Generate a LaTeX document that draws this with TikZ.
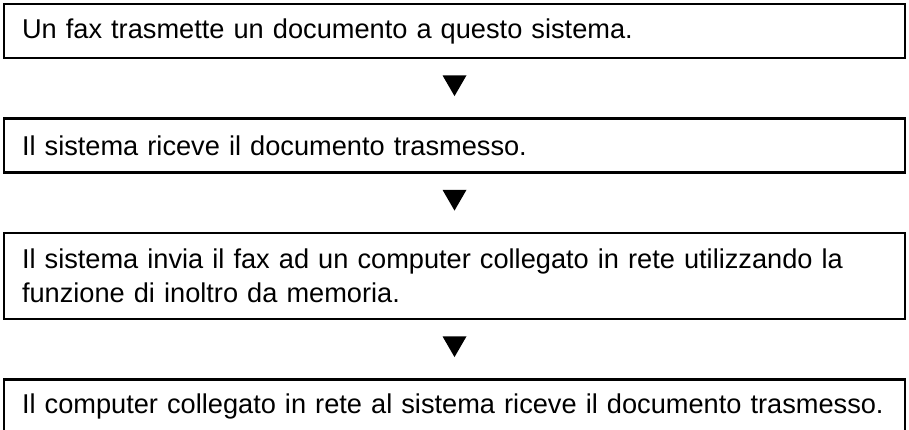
\documentclass[tikz,border=0pt]{standalone}
\usepackage{fontspec}
\setmainfont{Liberation Sans}
\usetikzlibrary{positioning,calc,shapes.geometric}
\tikzset{
  flowbox/.style={draw=black, line width=2.5pt, rectangle, minimum width=901pt,
    text width=865pt, inner xsep=18pt, inner ysep=0pt, align=left,
    font=\fontsize{27.2}{34}\selectfont},
  downmark/.style={regular polygon, regular polygon sides=3, shape border rotate=180,
    fill=black, inner sep=0pt, minimum size=27.7pt}
}
\begin{document}
\begin{tikzpicture}[node distance=58pt]
		%% fixed frame of the picture
		\useasboundingbox (0,0) rectangle (909pt,-429pt);
		%% the four steps, one under the other
		\node[flowbox, minimum height=54pt] (recv1) at (454.5pt,-31pt) {Un fax trasmette un documento a questo sistema.};
		\node[flowbox, minimum height=54pt, below=of recv1] (recv2) {Il sistema riceve il documento trasmesso.};
		\node[flowbox, minimum height=86pt, below=of recv2] (fwd) {Il sistema invia il fax ad un computer collegato in rete utilizzando la\\funzione di inoltro da memoria.};
		\node[flowbox, minimum height=54pt, below=of fwd] (pc) {\mbox{Il computer collegato in rete al sistema riceve il documento trasmesso.}};
		%% black triangles between the steps
		\node[downmark] (m1) at ($(recv1.south)!0.5!(recv2.north)+(0,6pt)$) {};
		\node[downmark] (m2) at ($(recv2.south)!0.5!(fwd.north)+(0,6pt)$) {};
		\node[downmark] (m3) at ($(fwd.south)!0.5!(pc.north)+(0,6pt)$) {};
	\end{tikzpicture}
\end{document}
